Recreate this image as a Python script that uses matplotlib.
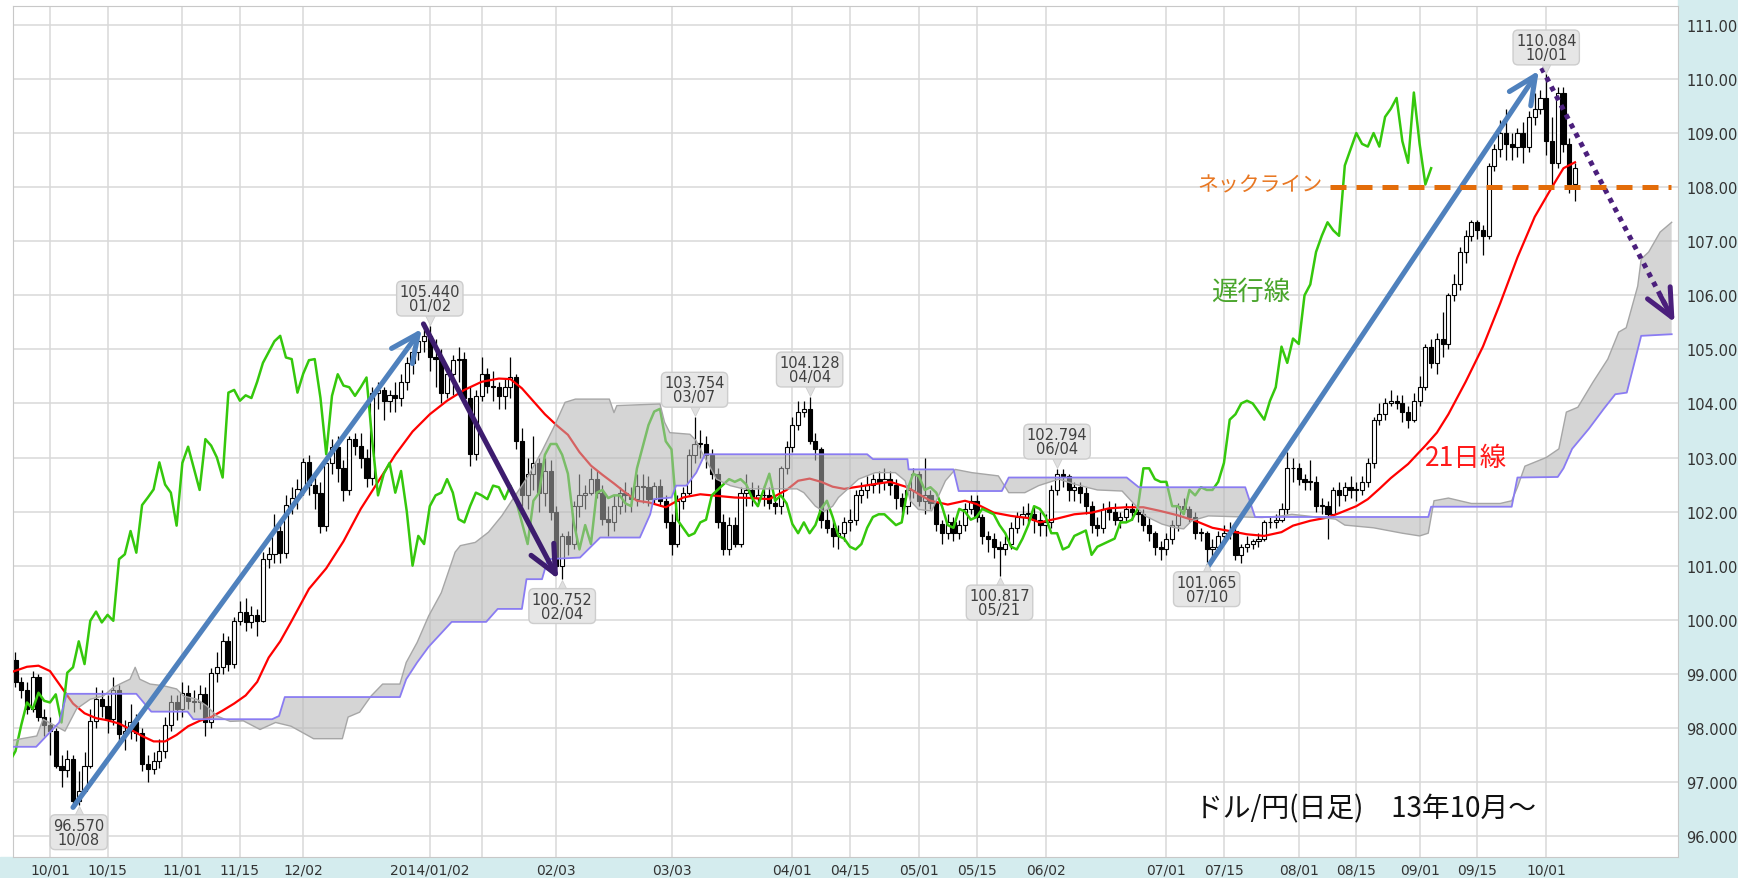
import numpy as np
import pandas as pd
import matplotlib
matplotlib.use("Agg")
import matplotlib.pyplot as plt
from matplotlib.patches import Rectangle
from matplotlib.transforms import offset_copy

# ドル/円 日足 2013/09/23 - 2014/10/08 (1/1 休場)
opens = [99.25, 98.85, 98.70, 98.35, 98.95, 98.20, 98.05, 97.95, 97.30, 97.22,
         97.43, 96.65, 96.84, 97.30, 98.13, 98.53, 98.40, 98.16, 98.70, 97.88,
         97.95, 98.10, 97.90, 97.33, 97.24, 97.38, 97.57, 98.05, 98.47, 98.35,
         98.65, 98.50, 98.47, 98.62, 98.10, 99.02, 99.12, 99.60, 99.18, 99.98,
         100.15, 99.95, 100.09, 99.98, 101.12, 101.21, 101.64, 101.24, 102.12, 102.26,
         102.41, 102.91, 102.50, 102.35, 101.74, 102.90, 103.20, 102.80, 102.40, 103.34,
         103.22, 103.00, 102.63, 104.20, 104.25, 104.05, 104.15, 104.10, 104.40, 104.75,
         104.95, 105.15, 105.25, 104.85, 104.82, 104.20, 104.55, 104.80, 104.82, 104.10,
         103.06, 104.14, 104.54, 104.33, 104.30, 104.14, 104.30, 104.48, 103.30, 102.30,
         102.70, 102.90, 102.35, 102.75, 102.00, 101.00, 101.55, 101.40, 102.10, 102.30,
         102.35, 102.60, 102.35, 101.86, 101.80, 102.10, 102.35, 102.30, 102.23, 102.48,
         102.45, 102.23, 102.48, 102.20, 101.80, 101.40, 102.20, 102.35, 103.05, 103.25,
         103.25, 103.05, 102.70, 101.80, 101.30, 101.75, 101.40, 102.35, 102.40, 102.25,
         102.30, 102.30, 102.15, 102.10, 102.80, 103.20, 103.60, 103.85, 103.90, 103.30,
         103.15, 101.85, 101.70, 101.55, 101.60, 101.80, 101.85, 102.30, 102.40, 102.50,
         102.60, 102.55, 102.60, 102.50, 102.25, 102.10, 102.40, 102.70, 102.20, 102.30,
         102.15, 101.77, 101.60, 101.80, 101.60, 101.75, 102.05, 102.20, 101.90, 101.55,
         101.50, 101.35, 101.30, 101.40, 101.70, 101.90, 101.95, 101.95, 101.85, 101.75,
         101.80, 102.40, 102.70, 102.65, 102.40, 102.45, 102.35, 102.10, 101.75, 101.70,
         102.05, 102.00, 101.85, 101.90, 102.05, 102.00, 101.95, 101.75, 101.60, 101.35,
         101.30, 101.50, 101.75, 102.10, 102.05, 101.90, 101.60, 101.60, 101.30, 101.35,
         101.55, 101.60, 101.65, 101.20, 101.35, 101.40, 101.45, 101.50, 101.80, 101.80,
         101.85, 102.05, 102.80, 102.80, 102.60, 102.55, 102.55, 102.10, 102.10, 101.95,
         102.40, 102.30, 102.45, 102.40, 102.40, 102.55, 102.90, 103.70, 103.80, 104.00,
         104.05, 104.00, 103.85, 103.70, 104.05, 104.30, 105.05, 104.75, 105.20, 105.10,
         106.00, 106.20, 106.80, 107.10, 107.35, 107.20, 107.10, 108.40, 108.70, 109.00,
         108.80, 108.75, 109.00, 108.75, 109.30, 109.45, 109.65, 108.85, 108.45, 109.75,
         108.80, 108.05]
highs = [99.40, 98.95, 98.85, 99.05, 99.00, 98.35, 98.20, 98.00, 97.50, 97.60,
         97.50, 97.20, 97.55, 98.35, 98.75, 98.70, 98.60, 98.95, 98.80, 98.15,
         98.45, 98.25, 98.00, 97.50, 97.55, 97.80, 98.20, 98.60, 98.60, 98.85,
         98.80, 98.70, 98.80, 98.75, 99.10, 99.40, 99.75, 99.70, 100.05, 100.35,
         100.40, 100.25, 100.20, 101.25, 101.35, 101.95, 101.80, 102.30, 102.45, 102.60,
         103.00, 103.05, 102.70, 102.55, 102.95, 103.35, 103.40, 102.95, 103.40, 103.45,
         103.45, 103.15, 104.30, 104.40, 104.30, 104.25, 104.40, 104.55, 104.85, 105.05,
         105.30, 105.40, 105.44, 105.20, 105.00, 104.70, 104.90, 105.05, 104.95, 104.30,
         104.25, 104.85, 104.65, 104.60, 104.40, 104.45, 104.85, 104.55, 103.55, 103.00,
         103.40, 103.00, 103.00, 102.95, 102.10, 101.60, 101.65, 102.20, 102.70, 102.50,
         102.80, 102.75, 102.50, 102.10, 102.30, 102.45, 102.55, 102.45, 102.70, 102.70,
         102.65, 102.55, 102.60, 102.30, 101.95, 102.30, 102.45, 103.15, 103.754, 103.50,
         103.40, 103.15, 102.80, 101.95, 101.90, 101.90, 102.45, 102.70, 102.55, 102.50,
         102.50, 102.45, 102.30, 102.85, 103.30, 103.75, 104.05, 104.05, 104.128, 103.45,
         103.20, 102.05, 101.85, 101.75, 101.90, 102.05, 102.40, 102.55, 102.65, 102.70,
         102.75, 102.80, 102.75, 102.60, 102.35, 102.50, 102.80, 102.75, 103.00, 102.40,
         102.20, 101.85, 101.95, 101.90, 101.85, 102.15, 102.30, 102.30, 101.95, 101.65,
         101.60, 101.45, 101.55, 101.80, 102.00, 102.10, 102.15, 102.10, 102.00, 101.95,
         102.50, 102.794, 102.78, 102.70, 102.55, 102.55, 102.45, 102.20, 101.90, 102.15,
         102.20, 102.15, 102.00, 102.15, 102.15, 102.10, 102.05, 101.90, 101.65, 101.45,
         101.60, 101.85, 102.15, 102.25, 102.10, 102.00, 101.70, 101.65, 101.50, 101.65,
         101.75, 101.80, 101.75, 101.40, 101.55, 101.50, 101.60, 101.85, 101.90, 101.95,
         102.15, 103.10, 103.00, 102.90, 102.70, 102.95, 102.65, 102.25, 102.20, 102.45,
         102.55, 102.55, 102.65, 102.55, 102.65, 103.00, 103.75, 104.00, 104.10, 104.25,
         104.15, 104.15, 103.95, 104.20, 104.50, 105.10, 105.20, 105.30, 105.70, 106.05,
         106.40, 106.90, 107.20, 107.40, 107.40, 107.30, 108.45, 108.80, 109.25, 109.45,
         109.00, 109.10, 109.20, 109.40, 109.75, 109.80, 110.084, 109.30, 109.85, 109.85,
         108.90, 108.45]
lows = [98.75, 98.55, 98.25, 98.30, 98.12, 97.85, 97.50, 97.25, 96.90, 97.10,
        96.60, 96.57, 96.80, 97.25, 98.00, 98.20, 97.90, 98.05, 97.75, 97.60,
        97.80, 97.75, 97.20, 97.00, 97.15, 97.25, 97.45, 97.95, 98.15, 98.20,
        98.35, 98.30, 98.35, 97.85, 98.00, 98.85, 99.00, 99.05, 99.10, 99.90,
        99.80, 99.85, 99.70, 99.95, 100.95, 101.05, 101.05, 101.15, 101.95, 102.05,
        102.30, 102.30, 102.05, 101.60, 101.65, 102.70, 102.55, 102.20, 102.30, 103.05,
        102.80, 102.45, 102.50, 103.90, 103.70, 103.85, 103.85, 103.95, 104.25, 104.55,
        104.80, 104.95, 104.60, 104.30, 104.00, 104.10, 104.15, 104.40, 104.00, 102.85,
        102.95, 104.05, 104.20, 104.05, 103.90, 103.90, 104.10, 103.15, 102.10, 102.05,
        102.40, 102.00, 102.10, 101.85, 100.95, 100.752, 101.20, 101.30, 101.90, 102.05,
        102.30, 102.25, 101.75, 101.55, 101.65, 101.95, 102.00, 102.00, 102.10, 102.15,
        102.10, 102.15, 102.10, 101.70, 101.20, 101.35, 102.05, 102.30, 102.90, 103.00,
        102.80, 102.60, 101.70, 101.20, 101.20, 101.35, 101.35, 102.10, 102.10, 102.10,
        102.10, 102.05, 101.95, 101.95, 102.70, 103.10, 103.50, 103.75, 103.25, 102.95,
        101.70, 101.60, 101.35, 101.30, 101.45, 101.65, 101.75, 102.15, 102.25, 102.35,
        102.35, 102.40, 102.30, 102.05, 101.90, 101.95, 102.25, 102.10, 101.95, 102.05,
        101.65, 101.40, 101.50, 101.45, 101.50, 101.65, 101.95, 101.80, 101.40, 101.25,
        101.15, 100.817, 101.20, 101.30, 101.60, 101.75, 101.80, 101.60, 101.55, 101.55,
        101.70, 102.30, 102.45, 102.20, 102.20, 102.15, 101.95, 101.60, 101.55, 101.60,
        101.85, 101.75, 101.70, 101.80, 101.85, 101.80, 101.65, 101.45, 101.20, 101.10,
        101.20, 101.40, 101.65, 101.95, 101.80, 101.50, 101.45, 101.065, 101.15, 101.30,
        101.45, 101.50, 101.10, 101.05, 101.25, 101.30, 101.35, 101.45, 101.70, 101.70,
        101.80, 101.95, 102.55, 102.50, 102.40, 102.40, 102.00, 101.95, 101.50, 101.90,
        102.10, 102.20, 102.25, 102.20, 102.30, 102.45, 102.80, 103.60, 103.70, 103.95,
        103.90, 103.65, 103.55, 103.65, 103.95, 104.25, 104.65, 104.55, 104.85, 105.00,
        105.90, 106.10, 106.60, 107.00, 107.05, 106.75, 107.05, 108.30, 108.55, 108.50,
        108.50, 108.55, 108.45, 108.65, 109.15, 109.35, 108.60, 108.00, 108.35, 108.65,
        107.90, 107.75]
closes = [98.85, 98.70, 98.35, 98.95, 98.20, 98.05, 97.95, 97.30, 97.22, 97.43,
          96.65, 96.84, 97.30, 98.13, 98.53, 98.40, 98.16, 98.70, 97.88, 97.95,
          98.10, 97.90, 97.33, 97.24, 97.38, 97.57, 98.05, 98.47, 98.35, 98.65,
          98.50, 98.47, 98.62, 98.10, 99.02, 99.12, 99.60, 99.18, 99.98, 100.15,
          99.95, 100.09, 99.98, 101.12, 101.21, 101.64, 101.24, 102.12, 102.26, 102.41,
          102.91, 102.50, 102.35, 101.74, 102.90, 103.20, 102.80, 102.40, 103.34, 103.22,
          103.00, 102.63, 104.20, 104.25, 104.05, 104.15, 104.10, 104.40, 104.75, 104.95,
          105.15, 105.25, 104.85, 104.82, 104.20, 104.55, 104.80, 104.82, 104.10, 103.06,
          104.14, 104.54, 104.33, 104.30, 104.14, 104.30, 104.48, 103.30, 102.30, 102.70,
          102.90, 102.35, 102.75, 102.00, 101.00, 101.55, 101.40, 102.10, 102.30, 102.35,
          102.60, 102.35, 101.86, 101.80, 102.10, 102.35, 102.30, 102.23, 102.48, 102.45,
          102.23, 102.48, 102.20, 101.80, 101.40, 102.20, 102.35, 103.05, 103.25, 103.25,
          103.05, 102.70, 101.80, 101.30, 101.75, 101.40, 102.35, 102.40, 102.25, 102.30,
          102.30, 102.15, 102.10, 102.80, 103.20, 103.60, 103.85, 103.90, 103.30, 103.15,
          101.85, 101.70, 101.55, 101.60, 101.80, 101.85, 102.30, 102.40, 102.50, 102.60,
          102.55, 102.60, 102.50, 102.25, 102.10, 102.40, 102.70, 102.20, 102.30, 102.15,
          101.77, 101.60, 101.80, 101.60, 101.75, 102.05, 102.20, 101.90, 101.55, 101.50,
          101.35, 101.30, 101.40, 101.70, 101.90, 101.95, 101.95, 101.85, 101.75, 101.80,
          102.40, 102.70, 102.65, 102.40, 102.45, 102.35, 102.10, 101.75, 101.70, 102.05,
          102.00, 101.85, 101.90, 102.05, 102.00, 101.95, 101.75, 101.60, 101.35, 101.30,
          101.50, 101.75, 102.10, 102.05, 101.90, 101.60, 101.60, 101.30, 101.35, 101.55,
          101.60, 101.65, 101.20, 101.35, 101.40, 101.45, 101.50, 101.80, 101.80, 101.85,
          102.05, 102.80, 102.80, 102.60, 102.55, 102.55, 102.10, 102.10, 101.95, 102.40,
          102.30, 102.45, 102.40, 102.40, 102.55, 102.90, 103.70, 103.80, 104.00, 104.05,
          104.00, 103.85, 103.70, 104.05, 104.30, 105.05, 104.75, 105.20, 105.10, 106.00,
          106.20, 106.80, 107.10, 107.35, 107.20, 107.10, 108.40, 108.70, 109.00, 108.80,
          108.75, 109.00, 108.75, 109.30, 109.45, 109.65, 108.85, 108.45, 109.75, 108.80,
          108.05, 108.35]

# 21日線 (読み取り値, 2013/10/01 = 0 の営業日番号)
ma21_x = [-7, -4, -2, 0, 2, 4, 6, 8, 10, 12, 14, 16, 18, 20, 22, 24, 26, 28, 30, 32,
          34, 36, 38, 40, 42, 45, 48, 51, 54, 57, 60, 63, 66, 69, 72, 75, 78, 80, 82, 84,
          86, 88, 90, 92, 94, 96, 98, 100, 102, 104, 107, 110, 113, 116, 119, 122, 125, 128, 130, 132,
          134, 136, 138, 141, 144, 146, 149, 151, 153, 156, 159, 161, 164, 167, 170, 172, 175, 178, 181, 184,
          187, 190, 193, 196, 199, 202, 205, 208, 211, 214, 216, 219, 222, 224, 227, 229, 231, 233, 236, 239,
          241, 243, 246, 249, 252, 255, 258, 261, 263, 265]
ma21_y = [99.02, 99.13, 99.15, 99.05, 98.75, 98.45, 98.27, 98.18, 98.14, 98.08,
          97.97, 97.85, 97.75, 97.75, 97.87, 98.03, 98.13, 98.2, 98.32, 98.45,
          98.6, 98.85, 99.3, 99.6, 99.98, 100.57, 100.95, 101.45, 102.05, 102.55,
          103.05, 103.48, 103.8, 104.05, 104.25, 104.4, 104.46, 104.45, 104.28, 104.04,
          103.8, 103.6, 103.42, 103.1, 102.85, 102.68, 102.52, 102.35, 102.2, 102.17,
          102.08, 102.26, 102.32, 102.29, 102.26, 102.25, 102.23, 102.4, 102.57, 102.61,
          102.55, 102.46, 102.42, 102.47, 102.52, 102.55, 102.45, 102.32, 102.2, 102.13,
          102.2, 102.14, 101.98, 101.92, 101.88, 101.8, 101.87, 101.95, 101.98, 102.06,
          102.08, 102.08, 102.01, 101.93, 101.83, 101.7, 101.64, 101.58, 101.55, 101.62,
          101.74, 101.83, 101.89, 101.97, 102.1, 102.23, 102.42, 102.62, 102.88, 103.22,
          103.46, 103.8, 104.4, 105.05, 105.85, 106.7, 107.45, 108.0, 108.35, 108.46]

# 一目 雲: 先行スパンA / B
span_a_x = [-7, -2.3, -1.2, 2.6, 4.6, 7, 9.3, 11, 12.7, 13.9,
            14.8, 15.6, 17.4, 19.7, 22, 23.2, 25.5, 27.2, 29, 31.3,
            33.6, 36.5, 39.2, 41.9, 45.8, 50.8, 51.8, 53.8, 55.8, 57.8,
            60.8, 61.9, 63.8, 65.8, 68, 70.4, 71.3, 73.9, 76.2, 78.5,
            80.8, 83.1, 85.4, 87.5, 89.5, 91.3, 97.2, 98, 98.5, 106,
            106.8, 107.7, 111.2, 112.3, 113.6, 114.7, 115.8, 118.2, 120.5, 129.8,
            131, 133, 134.5, 136, 137, 140.5, 143.4, 146.9, 148.6, 149.5,
            150.9, 153.2, 155.6, 157.3, 160.2, 164.8, 166.6, 169.4, 171.8, 175.3,
            177.9, 182, 186.3, 190.3, 193.2, 195.5, 197, 198.4, 201.3, 210.6,
            214, 215.8, 223.4, 225, 230, 235, 238, 239.5, 240.5, 243,
            247, 252, 254, 255, 256.3, 260, 262.2, 263.5, 265.5, 268.1,
            270.7, 272.6, 273.9, 275.9, 276.5, 277.8, 279.8, 281.8]
span_a_y = [97.76, 97.85, 98.16, 97.94, 98.35, 98.53, 98.59, 98.75, 98.84, 98.9,
            99.12, 98.9, 98.81, 98.78, 98.72, 98.59, 98.53, 98.41, 98.22, 98.12,
            98.13, 97.97, 98.1, 98.03, 97.8, 97.8, 98.2, 98.29, 98.59, 98.81,
            98.81, 99.21, 99.58, 100.07, 100.5, 101.25, 101.37, 101.43, 101.62, 101.92,
            102.29, 102.66, 103.1, 103.55, 104.02, 104.08, 104.08, 103.83, 103.96, 103.99,
            103.65, 103.46, 103.43, 103.31, 103.03, 102.82, 102.6, 102.48, 102.42, 102.42,
            102.35, 102.1, 102.0, 102.1, 102.26, 102.6, 102.72, 102.72, 102.57, 102.2,
            102.04, 102.01, 102.57, 102.78, 102.72, 102.66, 102.35, 102.35, 102.48, 102.6,
            102.51, 102.4, 102.38, 101.92, 101.77, 101.7, 101.68, 101.83, 101.92, 101.89,
            101.92, 101.95, 101.86, 101.75, 101.7, 101.6, 101.55, 101.6, 102.2, 102.25,
            102.15, 102.15, 102.2, 102.45, 102.84, 103.0, 103.16, 103.84, 103.93, 104.39,
            104.82, 105.32, 105.4, 106.17, 106.67, 106.8, 107.17, 107.35]
span_b_x = [-7, -2.4, 1.6, 2.9, 15, 17.6, 23.9, 24.9, 38.6, 39.8,
            40.8, 60.8, 61.9, 63.8, 65.8, 69.8, 75.8, 77.8, 82, 82.8,
            85.5, 86.5, 92.1, 95.6, 102.5, 104.3, 104.9, 108, 108.8, 110.6,
            112.3, 113.8, 142, 143, 149, 149.2, 157, 157.9, 165.4, 166.6,
            187.1, 189.2, 207.7, 209.4, 239.5, 240, 254, 255, 262, 263,
            264.5, 267.4, 270, 272, 274, 275.2, 276.5, 281.8]
span_b_y = [97.65, 97.65, 98.1, 98.63, 98.63, 98.3, 98.3, 98.16, 98.16, 98.22,
            98.57, 98.57, 98.9, 99.21, 99.5, 99.96, 99.96, 100.2, 100.2, 100.75,
            100.75, 101.12, 101.15, 101.52, 101.52, 101.95, 102.23, 102.26, 102.48, 102.48,
            102.72, 103.06, 103.06, 102.97, 102.97, 102.78, 102.78, 102.38, 102.38, 102.63,
            102.63, 102.45, 102.45, 101.9, 101.9, 102.09, 102.09, 102.63, 102.64, 102.8,
            103.16, 103.53, 103.9, 104.17, 104.2, 104.7, 105.25, 105.28]

tick_dates = ['2013-10-01', '2013-10-15', '2013-11-01', '2013-11-15', '2013-12-02',
              '2014-01-02', '2014-01-15', '2014-02-03', '2014-03-03', '2014-04-01',
              '2014-04-15', '2014-05-01', '2014-05-15', '2014-06-02', '2014-07-01',
              '2014-07-15', '2014-08-01', '2014-08-15', '2014-09-01', '2014-09-15',
              '2014-10-01']
tick_labels = ['10/01', '10/15', '11/01', '11/15', '12/02', '2014/01/02', '', '02/03',
               '03/03', '04/01', '04/15', '05/01', '05/15', '06/02', '07/01', '07/15',
               '08/01', '08/15', '09/01', '09/15', '10/01']
ytick_vals = list(range(96, 112))
ytick_labels = ['96.000', '97.000', '98.000', '99.000', '100.00', '101.00', '102.00',
                '103.00', '104.00', '105.00', '106.00', '107.00', '108.00', '109.00',
                '110.00', '111.00']

# 高値・安値の吹き出し
peak_dates = ['2013-10-08', '2014-01-02', '2014-02-04', '2014-03-07', '2014-04-04',
              '2014-05-21', '2014-06-04', '2014-07-10', '2014-10-01']
peak_vals = [96.570, 105.440, 100.752, 103.754, 104.128, 100.817, 102.794, 101.065, 110.084]
peak_high = [False, True, False, True, True, False, True, False, True]

neckline = 108.0

plt.rcParams['font.family'] = ['DejaVu Sans', 'Noto Sans CJK JP']
jp = ['Noto Sans CJK JP', 'DejaVu Sans']

dates = pd.bdate_range('2013-09-23', '2014-10-08')
dates = dates[dates != pd.Timestamp('2014-01-01')]
x = np.arange(len(dates)) - 6          # 2013/10/01 -> 0
o = np.array(opens); h = np.array(highs); l = np.array(lows); c = np.array(closes)

def pos(d):
    return dates.get_loc(pd.Timestamp(d)) - 6

W, H = 1738, 879
fig = plt.figure(figsize=(W / 100, H / 100), dpi=100)
fig.patch.set_facecolor('white')
band = '#d4ecee'
fig.patches.append(Rectangle((0, 0), 1, 21 / H, transform=fig.transFigure, color=band, zorder=-5))
fig.patches.append(Rectangle((1678 / W, 0), 1 - 1678 / W, 1, transform=fig.transFigure, color=band, zorder=-5))
ax = fig.add_axes([13 / W, 21 / H, 1665 / W, 851 / H])
ax.set_xlim(-6.43, 282.9)
ax.set_ylim(95.612, 111.35)

# ローソク足
up = c >= o
body_lo = np.minimum(o, c)
body_h = np.maximum(np.abs(c - o), 0.015)
ax.vlines(x, l, h, color='black', lw=0.9, zorder=2)
ax.bar(x, body_h, bottom=body_lo, width=0.72,
       color=np.where(up, 'white', 'black'), edgecolor='black', linewidth=0.8, zorder=2.5)

# 21日線と遅行線
ax.plot(ma21_x, ma21_y, color='#ff0000', lw=1.6, zorder=3)
ax.plot(x - 25, c, color='#35c80c', lw=1.8, zorder=3)

# 雲
ax.fill(np.r_[span_a_x, span_b_x[::-1]], np.r_[span_a_y, span_b_y[::-1]],
        color='#b4b4b4', alpha=0.55, lw=0, zorder=4)
ax.plot(span_a_x, span_a_y, color='#a6a6a6', lw=1.0, zorder=4.2)
ax.plot(span_b_x, span_b_y, color='#8a7cf2', lw=1.3, zorder=4.3)

# 吹き出し
for d, v, hi in zip(peak_dates, peak_vals, peak_high):
    px = pos(d)
    sgn = 1 if hi else -1
    ax.annotate(f'{v:.3f}\n{d[5:7]}/{d[8:]}', xy=(px, v), xytext=(0, 27 * sgn),
                textcoords='offset pixels', ha='center', va='center', fontsize=10.5,
                color='#404040', linespacing=0.92, zorder=8,
                bbox=dict(boxstyle='round,pad=0.2,rounding_size=0.35',
                          fc='#e6e6e6', ec='#cdcdcd', lw=1))
    tr = offset_copy(ax.transData, fig=fig, x=0, y=6 * sgn, units='dots')
    ax.plot(px, v, marker='v' if hi else '^', ms=7, color='#e0e0e0',
            mec='#cdcdcd', mew=0.6, transform=tr, zorder=7.9)

# 矢印
blue = '#4f81bd'
purple = '#3d1c6e'
def arrow(i0, i1, p0, p1, col):
    ax.annotate('', xy=(i1, p1), xytext=(i0, p0),
                arrowprops=dict(arrowstyle='->,head_length=0.9,head_width=0.42', lw=3.7,
                                color=col, shrinkA=0, shrinkB=0, mutation_scale=22), zorder=6)

arrow(pos(peak_dates[0]) - 1, pos(peak_dates[1]) - 1.4, peak_vals[0] - 0.04, peak_vals[1] - 0.06, blue)
arrow(pos(peak_dates[1]) - 1.1, pos(peak_dates[2]) - 0.7, peak_vals[1] + 0.03, peak_vals[2], purple)
arrow(pos(peak_dates[7]) + 0.3, pos(peak_dates[8]) - 1.3, peak_vals[7] - 0.07, peak_vals[8] + 0.07, blue)

# 予想の点線矢印
tgt_x, tgt_y = 282.3, 105.5
sx, sy = pos(peak_dates[8]) - 0.8, peak_vals[8] + 0.12
ax.plot([sx, tgt_x - 1.2], [sy, tgt_y + 0.24], color='#4b1f7c', lw=3.6,
        ls=(0, (1, 1.1)), dash_capstyle='butt', zorder=6)
ax.annotate('', xy=(tgt_x, tgt_y), xytext=(tgt_x - 2.5, tgt_y + 0.5),
            arrowprops=dict(arrowstyle='->,head_length=0.9,head_width=0.42', lw=3.6,
                            color='#4b1f7c', shrinkA=0, shrinkB=0, mutation_scale=22), zorder=6)

# ネックライン
ax.plot([222.5, 281.7], [neckline, neckline], color='#e36c09', lw=3.6,
        ls=(0, (3.2, 2.0)), dash_capstyle='butt', zorder=6)
ax.text(221.2, neckline + 0.05, 'ネックライン', family=jp, fontsize=15, color='#e87722',
        ha='right', va='center', zorder=7)
ax.text(208.7, 106.07, '遅行線', family=jp, fontsize=19, color='#4aa52c',
        ha='center', va='center', zorder=7)
ax.text(246, 103.0, '21日線', family=jp, fontsize=19, color='#ff1a1a',
        ha='center', va='center', zorder=7)
ax.text(199, 96.52, 'ドル/円(日足)　13年10月～', family=jp, fontsize=20, color='#111111',
        ha='left', va='center', zorder=7)

# 軸
ax.set_xticks([pos(d) for d in tick_dates])
ax.set_xticklabels(tick_labels)
ax.set_yticks(ytick_vals)
ax.set_yticklabels(ytick_labels)
ax.yaxis.tick_right()
ax.tick_params(axis='x', length=0, pad=4, labelsize=10, labelcolor='#333333')
ax.tick_params(axis='y', length=0, pad=6, labelsize=10.5, labelcolor='#333333')
ax.grid(True, color='#d9d9d9', lw=1.1, zorder=0)
ax.set_axisbelow(True)
for s in ax.spines.values():
    s.set_color('#c8c8c8')

fig.savefig('out.png', dpi=100)
